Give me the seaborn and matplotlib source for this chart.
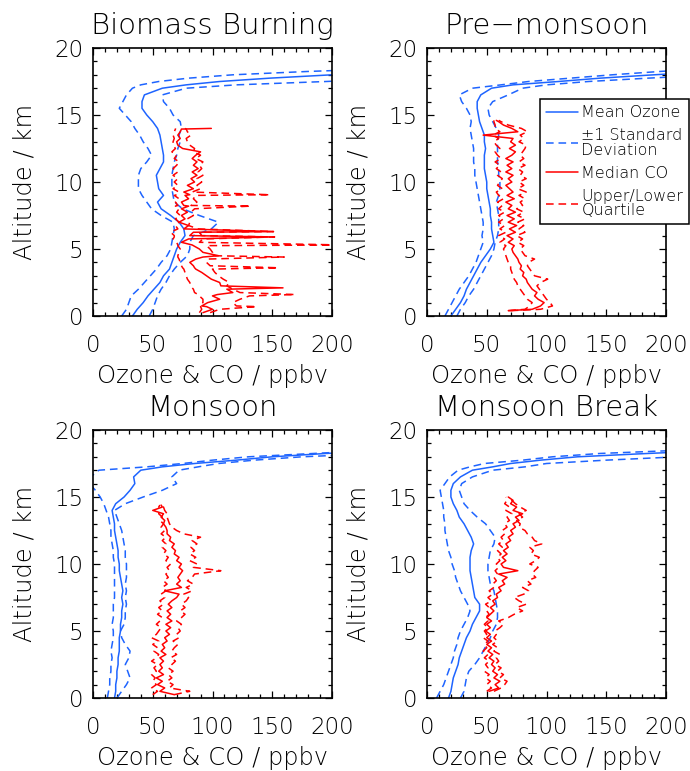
import matplotlib
matplotlib.use("Agg")
import matplotlib.pyplot as plt
from matplotlib.ticker import MultipleLocator
import seaborn as sns

sns.set_style("ticks")
plt.rcParams["font.family"] = ["DejaVu Sans"]
plt.rcParams["font.weight"] = "light"
plt.rcParams["axes.titleweight"] = "light"
plt.rcParams["axes.labelweight"] = "light"
plt.rcParams["lines.scale_dashes"] = False
for k in ["text.color", "axes.labelcolor", "xtick.color", "ytick.color"]:
    plt.rcParams[k] = "black"

BLUE = "#1e64ff"
RED = "#ff0000"
DASH = (0, (5.5, 3.5))

# ---------------- ozone altitude grid (km), shared by all panels
o3_alt = [0, 0.5, 1, 1.5, 2, 2.5, 3, 3.5, 4, 4.5,
          5, 5.5, 6, 6.5, 7, 7.5, 8, 8.5, 9, 9.5,
          10, 10.5, 11, 11.5, 12, 12.5, 13, 13.5, 14, 14.5,
          15, 15.5, 16, 16.5, 17,
          17.25, 17.5, 17.75, 18, 18.25, 18.5, 18.75, 19]

# ---------------- Biomass Burning
bb_o3_mean = [33, 37, 42, 46, 51, 56, 59, 64, 66, 68,
              70, 73, 77, 76, 72, 65, 57, 54, 59, 55,
              54, 53, 56, 59, 59, 58, 57, 56, 54, 50,
              45, 41, 41, 43, 58,
              78, 106, 148, 200, 250, 300, 350, 400]
bb_o3_lo = [24, 28, 30, 32, 38, 43, 48, 53, 57, 62,
            65, 66, 67, 68, 67, 57, 49, 45, 41, 38,
            38, 38, 40, 45, 49, 46, 42, 39, 35, 32,
            27, 22, 25, 28, 33,
            40, 55, 80, 117, 180, 260, 330, 400]
bb_o3_hi = [47, 50, 52, 54, 57, 61, 64, 68, 73, 79,
            81, 81, 84, 99, 105, 89, 75, 68, 67, 66,
            66, 66, 67, 68, 70, 71, 73, 72, 74, 73,
            67, 64, 59, 58, 78,
            120, 195, 260, 320, 380, 440, 500, 560]
bb_co_alt = [0.25, 0.5, 0.7, 0.75, 1.0, 1.25, 1.5, 1.6, 1.75, 2.0,
             2.1, 2.25, 2.5, 2.75, 3.0, 3.25, 3.5, 3.6, 3.75, 4.0,
             4.25, 4.4, 4.5, 4.75, 5.0, 5.25, 5.3, 5.5, 5.75, 5.9,
             6.0, 6.25, 6.3, 6.5, 6.75, 7.0, 7.25, 7.5, 7.75, 8.0,
             8.2, 8.25, 8.5, 8.75, 9.0, 9.05, 9.25, 9.5, 9.75, 10.0,
             10.25, 10.5, 10.75, 11.0, 11.25, 11.5, 11.75, 12.0, 12.25, 12.5,
             12.75, 13.0, 13.25, 13.5, 13.75, 13.95, 14.0]
bb_co_med = [92, 100, 95, 91, 96, 106, 100, 104, 117, 112,
             159, 107, 106, 99, 95, 91, 86, 85, 84, 81,
             86, 92, 105, 92, 89, 84, 83, 74, 80, 151,
             81, 84, 151, 76, 80, 72, 77, 74, 79, 74,
             80, 76, 74, 80, 77, 81, 76, 84, 79, 85,
             82, 87, 83, 88, 84, 87, 83, 86, 90, 75,
             71, 70, 73, 71, 73, 74, 99]
bb_co_lo = [89, 91, 90, 89, 92, 92, 89, 88, 85, 84,
            83, 82, 81, 79, 78, 77, 76, 75, 74, 73,
            72, 71, 71, 72, 73, 71, 71, 70, 67, 68,
            68, 65, 66, 71, 69, 72, 69, 73, 70, 72,
            69, 71, 69, 72, 68, 70, 72, 67, 71, 68,
            71, 67, 71, 67, 70, 72, 68, 70, 66, 69,
            67, 67, 68, 67, 68, 69, 69]
bb_co_hi = [98, 106, 137, 120, 117, 123, 131, 169, 123, 117,
            115, 112, 114, 109, 105, 102, 100, 155, 98, 95,
            96, 160, 100, 100, 98, 95, 210, 89, 92, 152,
            91, 89, 151, 88, 80, 81, 79, 84, 82, 85,
            132, 82, 87, 84, 86, 148, 83, 90, 87, 91,
            87, 92, 88, 91, 89, 92, 86, 90, 84, 85,
            81, 79, 78, 82, 79, 78, 77]

# ---------------- Pre-monsoon
pm_o3_mean = [20, 24, 28, 31, 33, 36, 39, 42, 45, 49,
              53, 56, 55, 54, 54, 53, 53, 52, 51, 50,
              50, 49, 48, 48, 48, 49, 48, 48, 46, 44,
              43, 42, 42, 45, 54,
              72, 110, 145, 190, 240, 290, 340, 390]
pm_o3_lo = [15, 18, 21, 24, 27, 31, 35, 38, 41, 43,
            45, 47, 46, 47, 47, 46, 45, 44, 43, 42,
            41, 40, 40, 39, 39, 39, 38, 37, 36, 37,
            36, 33, 29, 27, 38,
            62, 85, 120, 155, 195, 240, 290, 340]
pm_o3_hi = [25, 28, 32, 35, 39, 42, 45, 48, 51, 54,
            56, 57, 59, 60, 60, 60, 59, 58, 60, 61,
            61, 60, 60, 59, 59, 59, 59, 60, 58, 55,
            52, 51, 55, 68, 80,
            100, 135, 185, 240, 290, 340, 390, 440]
pm_co_alt = [0.4, 0.5, 0.75, 1.0, 1.25, 1.5, 1.75, 2.0, 2.25, 2.5,
             2.75, 3.0, 3.25, 3.5, 3.75, 4.0, 4.25, 4.5, 4.75, 5.0,
             5.25, 5.5, 5.75, 6.0, 6.25, 6.5, 6.75, 7.0, 7.25, 7.5,
             7.75, 8.0, 8.25, 8.5, 8.75, 9.0, 9.25, 9.5, 9.75, 10.0,
             10.25, 10.5, 10.75, 11.0, 11.25, 11.5, 11.75, 12.0, 12.25, 12.5,
             12.75, 13.0, 13.25, 13.5, 13.75, 14.0, 14.25, 14.5, 14.6]
pm_co_med = [68, 88, 95, 98, 93, 90, 92, 88, 86, 84,
             83, 80, 81, 78, 79, 77, 76, 74, 72, 71,
             73, 68, 72, 67, 74, 69, 75, 68, 73, 67,
             74, 68, 71, 66, 73, 67, 72, 69, 66, 71,
             68, 72, 66, 71, 67, 72, 66, 71, 74, 69,
             74, 70, 72, 47, 76, 71, 64, 60, 58]
pm_co_lo = [68, 82, 86, 88, 84, 82, 80, 78, 76, 75,
            73, 72, 71, 70, 70, 68, 67, 66, 65, 64,
            66, 61, 65, 60, 66, 61, 65, 60, 64, 60,
            65, 60, 63, 59, 64, 60, 58, 63, 59, 61,
            63, 59, 62, 58, 61, 57, 62, 59, 57, 61,
            58, 56, 60, 55, 61, 57, 57, 56, 56]
pm_co_hi = [70, 95, 105, 103, 100, 98, 96, 94, 92, 95,
            101, 90, 88, 86, 84, 85, 90, 82, 80, 78,
            81, 76, 80, 75, 82, 77, 81, 76, 82, 76,
            81, 75, 80, 78, 82, 77, 83, 76, 81, 77,
            83, 78, 80, 76, 82, 77, 81, 78, 80, 82,
            83, 77, 81, 78, 84, 79, 68, 62, 60]

# ---------------- Monsoon
mo_o3_mean = [18, 19, 19, 20, 20, 21, 21, 22, 22, 22,
              23, 23, 24, 24, 25, 24, 25, 24, 23, 22,
              22, 21, 21, 20, 19, 18, 18, 17, 16, 19,
              26, 31, 35, 34, 40,
              58, 85, 120, 150, 195, 260, 320, 380]
mo_o3_lo = [12, 13, 14, 14, 15, 15, 16, 15, 16, 17,
            17, 16, 17, 17, 17, 18, 18, 18, 18, 18,
            18, 17, 17, 16, 15, 15, 14, 13, 11, 9,
            6, 2, -3, -2, 5,
            45, 75, 100, 130, 185, 240, 300, 360]
mo_o3_hi = [20, 24, 28, 31, 29, 27, 30, 31, 27, 24,
            23, 26, 27, 27, 28, 27, 28, 27, 28, 28,
            28, 27, 27, 26, 25, 24, 22, 20, 18, 27,
            42, 58, 70, 66, 72,
            88, 105, 135, 175, 240, 300, 360, 420]
mo_co_alt = [0.25, 0.5, 0.75, 1.0, 1.25, 1.5, 1.75, 2.0, 2.25, 2.5,
             2.75, 3.0, 3.25, 3.5, 3.75, 4.0, 4.25, 4.5, 4.75, 5.0,
             5.25, 5.5, 5.75, 6.0, 6.25, 6.5, 6.75, 7.0, 7.25, 7.5,
             7.75, 8.0, 8.25, 8.5, 8.75, 9.0, 9.25, 9.5, 9.75, 10.0,
             10.25, 10.5, 10.75, 11.0, 11.25, 11.5, 11.75, 12.0, 12.25, 12.5,
             12.75, 13.0, 13.25, 13.5, 13.75, 14.0, 14.25, 14.4]
mo_co_med = [68, 56, 60, 54, 58, 53, 59, 55, 58, 56,
             59, 56, 61, 57, 60, 58, 62, 60, 64, 61,
             65, 61, 66, 62, 65, 62, 66, 63, 66, 70,
             72, 60, 74, 70, 73, 71, 73, 75, 72, 74,
             70, 72, 68, 69, 66, 68, 64, 65, 62, 62,
             61, 59, 60, 57, 59, 50, 58, 57]
mo_co_lo = [50, 54, 49, 53, 50, 52, 49, 53, 51, 54,
            49, 53, 55, 51, 54, 50, 55, 49, 53, 55,
            57, 53, 56, 58, 54, 58, 55, 59, 56, 60,
            57, 61, 58, 62, 59, 63, 61, 64, 62, 65,
            61, 63, 59, 61, 58, 61, 58, 61, 57, 60,
            57, 59, 56, 58, 55, 56, 55, 56]
mo_co_hi = [68, 81, 64, 67, 62, 66, 63, 67, 63, 66,
            69, 65, 70, 66, 68, 71, 67, 72, 70, 73,
            71, 74, 70, 74, 77, 73, 77, 74, 78, 80,
            76, 83, 78, 84, 79, 83, 85, 107, 84, 87,
            81, 86, 81, 85, 82, 87, 83, 90, 76, 70,
            66, 64, 63, 62, 62, 60, 59, 58]

# ---------------- Monsoon Break
br_o3_mean = [18, 20, 21, 22, 24, 26, 27, 29, 31, 33,
              36, 38, 41, 44, 44, 40, 39, 38, 37, 36,
              36, 36, 37, 39, 37, 34, 31, 27, 25, 22,
              20, 20, 22, 28, 38,
              55, 70, 95, 126, 185, 250, 310, 370]
br_o3_lo = [8, 11, 14, 16, 18, 20, 22, 23, 25, 26,
            28, 31, 34, 36, 34, 31, 28, 26, 24, 23,
            21, 20, 18, 17, 16, 15, 15, 14, 14, 13,
            12, 11, 15, 19, 26,
            36, 48, 80, 105, 145, 215, 280, 340]
br_o3_hi = [28, 31, 32, 33, 35, 40, 44, 47, 50, 53,
            55, 58, 59, 59, 58, 57, 56, 53, 52, 51,
            51, 52, 53, 56, 57, 53, 49, 42, 36, 31,
            29, 27, 29, 38, 55,
            82, 100, 150, 210, 270, 330, 390, 450]
br_co_alt = [0.5, 0.75, 1.0, 1.25, 1.5, 1.75, 2.0, 2.25, 2.5, 2.75,
             3.0, 3.25, 3.5, 3.75, 4.0, 4.25, 4.5, 4.75, 5.0, 5.25,
             5.5, 5.75, 6.0, 6.25, 6.5, 6.75, 7.0, 7.25, 7.5, 7.75,
             8.0, 8.25, 8.5, 8.75, 9.0, 9.25, 9.5, 9.75, 10.0, 10.25,
             10.5, 10.75, 11.0, 11.25, 11.5, 11.75, 12.0, 12.25, 12.5, 12.75,
             13.0, 13.25, 13.5, 13.75, 14.0, 14.25, 14.5, 14.75, 15.0]
br_co_med = [52, 60, 57, 61, 56, 59, 55, 57, 54, 56,
             52, 55, 51, 54, 50, 54, 50, 53, 49, 53,
             50, 54, 50, 53, 56, 53, 57, 55, 59, 58,
             62, 60, 65, 63, 67, 60, 76, 64, 62, 66,
             63, 67, 64, 68, 66, 70, 68, 72, 70, 74,
             72, 77, 74, 80, 72, 75, 70, 72, 68]
br_co_lo = [50, 54, 50, 53, 49, 52, 48, 51, 49, 52,
            48, 51, 47, 50, 48, 51, 47, 50, 48, 51,
            48, 51, 49, 52, 50, 52, 49, 54, 51, 55,
            52, 56, 55, 58, 56, 59, 57, 60, 58, 61,
            59, 62, 59, 63, 60, 64, 62, 65, 63, 67,
            65, 69, 67, 71, 66, 69, 65, 67, 66]
br_co_hi = [56, 62, 65, 67, 61, 64, 59, 62, 57, 60,
            58, 61, 56, 59, 55, 59, 56, 58, 57, 61,
            64, 60, 68, 73, 80, 75, 83, 77, 73, 81,
            85, 80, 87, 84, 91, 88, 90, 93, 86, 91,
            94, 87, 89, 86, 96, 90, 88, 84, 82, 77,
            78, 75, 80, 77, 83, 78, 74, 71, 69]

titles = ["Biomass Burning", "Pre\u2212monsoon", "Monsoon", "Monsoon Break"]
legend_labels = ["Mean Ozone", "\u00b11 Standard\nDeviation",
                 "Median CO", "Upper/Lower\nQuartile"]

panels = [
    (bb_o3_mean, bb_o3_lo, bb_o3_hi, bb_co_alt, bb_co_med, bb_co_lo, bb_co_hi),
    (pm_o3_mean, pm_o3_lo, pm_o3_hi, pm_co_alt, pm_co_med, pm_co_lo, pm_co_hi),
    (mo_o3_mean, mo_o3_lo, mo_o3_hi, mo_co_alt, mo_co_med, mo_co_lo, mo_co_hi),
    (br_o3_mean, br_o3_lo, br_o3_hi, br_co_alt, br_co_med, br_co_lo, br_co_hi),
]

# axes boxes: left edge and bottom edge in pixels
W, H = 690, 771
boxes = [(93, 316), (427, 316), (93, 698), (427, 698)]

fig = plt.figure(figsize=(W / 100, H / 100), dpi=100)

for i, (x0, ybot) in enumerate(boxes):
    ax = fig.add_axes([x0 / W, (H - ybot) / H, 239 / W, 268 / H])
    o3m, o3l, o3h, calt, cmed, clo, chi = panels[i]

    def line(x, y, color, ls, label):
        sns.lineplot(x=x, y=y, orient="y", sort=False, estimator=None,
                     color=color, linestyle=ls, linewidth=1.1,
                     label=label, legend=False, ax=ax)

    line(o3m, o3_alt, BLUE, "-", legend_labels[0])
    line(o3l, o3_alt, BLUE, DASH, legend_labels[1])
    line(o3h, o3_alt, BLUE, DASH, "_nolegend_")
    line(cmed, calt, RED, "-", legend_labels[2])
    line(clo, calt, RED, DASH, legend_labels[3])
    line(chi, calt, RED, DASH, "_nolegend_")

    ax.set_xlim(0, 200)
    ax.set_ylim(0, 20)
    ax.xaxis.set_major_locator(MultipleLocator(50))
    ax.xaxis.set_minor_locator(MultipleLocator(10))
    ax.yaxis.set_major_locator(MultipleLocator(5))
    ax.yaxis.set_minor_locator(MultipleLocator(1))
    ax.tick_params(which="both", direction="in", top=True, right=True,
                   color="black", width=0.9)
    ax.tick_params(which="major", length=5)
    ax.tick_params(which="minor", length=3)
    ax.tick_params(axis="x", pad=13, labelsize=16.5)
    ax.tick_params(axis="y", pad=7, labelsize=16.5)
    for s in ax.spines.values():
        s.set_visible(True)
        s.set_color("black")
        s.set_linewidth(1.2)

    ax.set_title(titles[i], fontsize=21, pad=10)
    ax.set_xlabel("Ozone & CO / ppbv", fontsize=17.5)
    ax.set_ylabel("Altitude / km", fontsize=17.5)
    ax.xaxis.set_label_coords(0.5, -0.225)
    ax.yaxis.set_label_coords(-0.285, 0.5)
    ax.xaxis.label.set_va("center")
    ax.yaxis.label.set_va("center")

    if i == 1:
        leg = ax.legend(loc="upper left", bbox_to_anchor=(0.472, 0.81),
                        fontsize=11.5, frameon=True, fancybox=False,
                        edgecolor="black", framealpha=1, borderaxespad=0,
                        handlelength=2.0, handletextpad=0.2, borderpad=0.4,
                        labelspacing=0.5)
        leg.get_frame().set_linewidth(1.1)
        for t in leg.get_texts():
            t.set_linespacing(0.95)

fig.savefig("out.png", dpi=100)
